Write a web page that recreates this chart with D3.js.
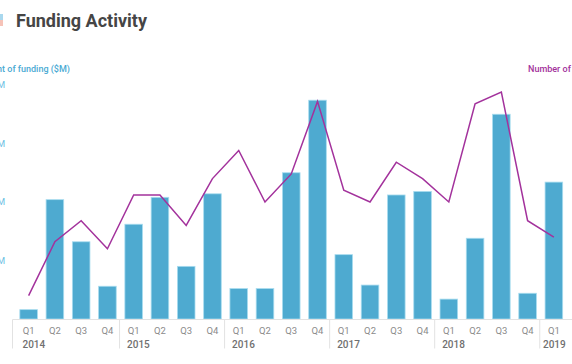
<!DOCTYPE html>
<html>
<head>
<meta charset="utf-8">
<script src="https://cdn.jsdelivr.net/npm/d3@7"></script>
<style>
  html, body { margin: 0; padding: 0; background: #fff; }
  svg { display: block; font-family: Roboto, "Noto Sans", sans-serif; }
</style>
</head>
<body>
<svg id="chart" width="572" height="364"></svg>
<script>
const years = ["2014","2015","2016","2017","2018","2019"];
const quarters = ["Q1","Q2","Q3","Q4"];
const categories = [
  "2014 Q1","2014 Q2","2014 Q3","2014 Q4",
  "2015 Q1","2015 Q2","2015 Q3","2015 Q4",
  "2016 Q1","2016 Q2","2016 Q3","2016 Q4",
  "2017 Q1","2017 Q2","2017 Q3","2017 Q4",
  "2018 Q1","2018 Q2","2018 Q3","2018 Q4",
  "2019 Q1"
];
const funding = [8, 102, 66, 28, 81, 104, 45, 107, 26, 26, 125, 187, 55, 29, 106, 109, 17, 69, 175, 22, 117];
const deals = [10, 33, 42, 30, 53, 53, 40, 60, 72, 50, 62, 93, 55, 50, 67, 60, 50, 92, 97, 42, 35];
const fundingTicks = [50, 100, 150, 200];
const fundingTickLabels = ["$50M", "$100M", "$150M", "$200M"];

const svg = d3.select("#chart");

// logo fragment
svg.append("rect").attr("x", -6).attr("y", 14).attr("width", 9).attr("height", 6).attr("fill", "#a9d8ee");
svg.append("rect").attr("x", -6).attr("y", 20).attr("width", 9).attr("height", 6).attr("fill", "#f6c3b8");

svg.append("text").attr("x", 16).attr("y", 27)
  .attr("font-size", 18).attr("font-weight", 700).attr("fill", "#454545")
  .text("Funding Activity");

const x = d3.scaleBand().domain(categories).range([15.5, 567]).paddingInner(0.33).paddingOuter(0.165);
const y = d3.scaleLinear().domain([0, 200]).range([319, 85]);
const y2 = d3.scaleLinear().domain([0, 100]).range([319, 85]);

// axis titles
svg.append("text").attr("x", 70).attr("y", 72).attr("text-anchor", "end")
  .attr("font-size", 9).attr("font-weight", 500).attr("fill", "#4aaad3")
  .text("Amount of funding ($M)");
svg.append("text").attr("x", 528).attr("y", 72).attr("text-anchor", "start")
  .attr("font-size", 9).attr("font-weight", 500).attr("fill", "#a3329c")
  .text("Number of deals");

// left tick labels
const yAxis = d3.axisLeft(y).tickValues(fundingTicks)
  .tickFormat((d, i) => fundingTickLabels[i]).tickSize(0).tickPadding(0);
const gy = svg.append("g").attr("transform", "translate(5,0)").call(yAxis);
gy.select(".domain").remove();
gy.selectAll("text").attr("font-size", 9).attr("fill", "#6cc0e3").attr("font-family", "Roboto, sans-serif");

// bars
svg.append("g").selectAll("rect").data(categories).join("rect")
  .attr("x", d => x(d))
  .attr("width", x.bandwidth())
  .attr("y", (d, i) => y(funding[i]))
  .attr("height", (d, i) => y(0) - y(funding[i]))
  .attr("fill", "#4eaad0")
  .attr("stroke", "#a8dcef")
  .attr("stroke-width", 0.8);

// x axis
const gx = svg.append("g").attr("transform", "translate(0,319.5)");
gx.append("line").attr("x1", 12.5).attr("x2", 572).attr("y1", 0).attr("y2", 0)
  .attr("stroke", "#e2e2e2").attr("stroke-width", 1);
const step = x.step();
categories.forEach((c, i) => {
  const q = quarters[i % 4];
  gx.append("text").attr("x", x(c) + x.bandwidth() / 2).attr("y", 14)
    .attr("text-anchor", "middle").attr("font-size", 9.5).attr("fill", "#8a8a8a").text(q);
});
years.forEach((yr, j) => {
  const c = categories[j * 4];
  const bx = x(c) + x.bandwidth() / 2 - step / 2 - 1;
  gx.append("line").attr("x1", j === 0 ? 12.5 : bx).attr("x2", j === 0 ? 12.5 : bx)
    .attr("y1", 0).attr("y2", 29).attr("stroke", "#e2e2e2").attr("stroke-width", 1);
  const tx = Math.min(bx + 7.5, 543);
  gx.append("text").attr("x", j === 0 ? 22.5 : tx).attr("y", 28)
    .attr("font-size", 10).attr("font-weight", 500).attr("fill", "#707070").text(yr);
});

// line
const line = d3.line()
  .x((d, i) => x(categories[i]) + x.bandwidth() / 2)
  .y(d => y2(d));
svg.append("path").datum(deals).attr("d", line)
  .attr("fill", "none").attr("stroke", "#a3329c").attr("stroke-width", 1.5)
  .attr("stroke-linejoin", "miter");
</script>
</body>
</html>
